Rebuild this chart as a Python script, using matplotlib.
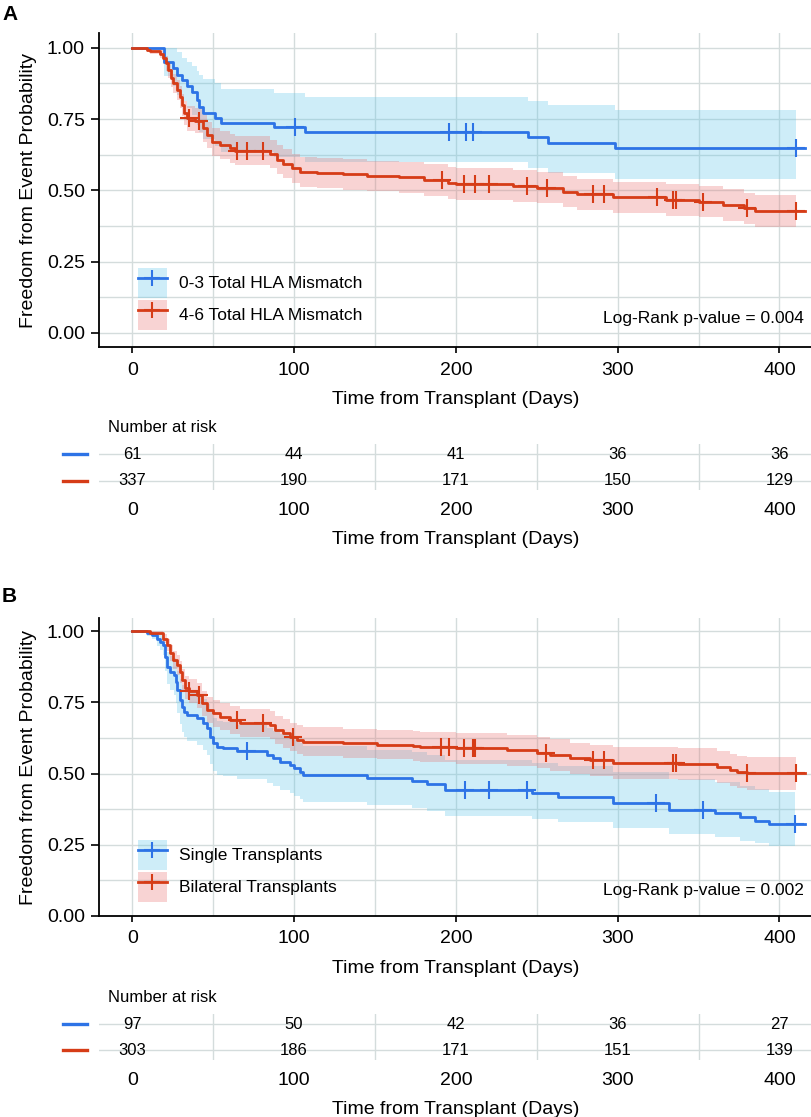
import numpy as np
import matplotlib
matplotlib.use('Agg')
import matplotlib.pyplot as plt
import matplotlib.transforms as mtransforms
from matplotlib.patches import Patch
from matplotlib.lines import Line2D

plt.rcParams['font.family'] = ['Liberation Sans', 'DejaVu Sans']

# ---- panel A : HLA mismatch ----
a1_labels = '0-3 Total HLA Mismatch'
a1_t = [0, 19.8, 25.3, 27.4, 30.5, 33.6, 36.7, 39.8, 41.4, 43.9, 51.1, 54.8, 87.8, 106.7, 244.8, 256.7, 298.3, 416]
a1_s = [1.0, 0.951, 0.928, 0.904, 0.887, 0.866, 0.846, 0.816, 0.793, 0.770, 0.752, 0.737, 0.723, 0.703, 0.688, 0.667, 0.649, 0.649]
a1_hi = [1.0, 1.0, 1.0, 0.985, 0.965, 0.95, 0.935, 0.92, 0.905, 0.89, 0.875, 0.854, 0.840, 0.826, 0.813, 0.798, 0.781, 0.781]
a1_lo = [1.0, 0.90, 0.865, 0.835, 0.815, 0.79, 0.765, 0.73, 0.705, 0.68, 0.655, 0.635, 0.618, 0.598, 0.577, 0.559, 0.539, 0.539]
a1_cens = [100.4, 196.0, 206.0, 210.8, 410.2]

a2_labels = '4-6 Total HLA Mismatch'
a2_t = [0, 8.9, 10.9, 17.1, 19.2, 20.6, 22.2, 23.7, 25.3, 27.4, 29.5, 30.5, 32.0, 33.6, 38.8, 43.9, 46.0, 49.0, 54.2, 60.4,
        63.5, 85.1, 89.2, 93.3, 98.5, 103.6, 114.0, 130.4, 144.9, 165.0, 180.0, 195.0, 200.0, 235.0, 250.0, 266.0, 275.0,
        297.0, 330.0, 350.0, 365.0, 378.0, 385.0, 416.0]
a2_s = [1.0, 0.994, 0.988, 0.979, 0.963, 0.945, 0.922, 0.893, 0.875, 0.852, 0.828, 0.799, 0.770, 0.752, 0.744, 0.717, 0.694,
        0.670, 0.659, 0.647, 0.639, 0.627, 0.608, 0.594, 0.577, 0.565, 0.561, 0.556, 0.550, 0.545, 0.536, 0.526, 0.522, 0.515,
        0.509, 0.495, 0.486, 0.475, 0.466, 0.460, 0.448, 0.437, 0.427, 0.427]
a2_hi = [1.0, 1.0, 0.998, 0.994, 0.984, 0.970, 0.950, 0.925, 0.909, 0.888, 0.866, 0.839, 0.812, 0.795, 0.788, 0.763, 0.741,
         0.718, 0.708, 0.697, 0.689, 0.677, 0.659, 0.645, 0.629, 0.618, 0.614, 0.610, 0.604, 0.600, 0.591, 0.581, 0.577, 0.570,
         0.564, 0.550, 0.541, 0.530, 0.521, 0.515, 0.503, 0.492, 0.482, 0.482]
a2_lo = [1.0, 0.986, 0.977, 0.964, 0.942, 0.920, 0.894, 0.861, 0.841, 0.816, 0.790, 0.759, 0.728, 0.709, 0.700, 0.671, 0.647,
         0.622, 0.610, 0.597, 0.589, 0.577, 0.557, 0.543, 0.525, 0.512, 0.508, 0.502, 0.496, 0.490, 0.481, 0.471, 0.467, 0.460,
         0.454, 0.440, 0.431, 0.420, 0.411, 0.405, 0.393, 0.382, 0.372, 0.372]
a2_cens = [35.3, 41.0, 64.6, 70.8, 81.0, 191.2, 205.0, 211.8, 220.6, 243.7, 256.1, 284.9, 291.5, 324.1, 334.0, 336.0,
           352.9, 379.7, 410.2]

a_pval = 'Log-Rank p-value = 0.004'
a_risk1 = [61, 44, 41, 36, 36]
a_risk2 = [337, 190, 171, 150, 129]

# ---- panel B : single vs bilateral ----
b1_labels = 'Single Transplants'
b1_t = [0, 8.9, 12.0, 15.1, 17.1, 19.2, 20.2, 21.3, 23.3, 25.8, 26.8, 27.8, 29.5, 30.5, 32.0, 34.0, 39.8, 43.9, 46.4, 48.0,
        50.1, 52.2, 56.3, 64.5, 83.1, 87.2, 91.3, 97.5, 99.9, 103.6, 105.7, 144.9, 172.7, 182.0, 193.3, 246.8, 263.3, 297.3,
        331.9, 360.1, 375.6, 384.9, 393.7, 416.0]
b1_s = [1.0, 0.992, 0.986, 0.974, 0.963, 0.951, 0.910, 0.875, 0.857, 0.846, 0.822, 0.793, 0.758, 0.734, 0.717, 0.705, 0.694,
        0.678, 0.659, 0.629, 0.606, 0.594, 0.588, 0.579, 0.565, 0.553, 0.541, 0.530, 0.518, 0.506, 0.495, 0.483, 0.474, 0.463,
        0.442, 0.431, 0.419, 0.398, 0.372, 0.361, 0.347, 0.335, 0.323, 0.323]
b1_hi = [1.0, 0.999, 0.996, 0.992, 0.985, 0.978, 0.950, 0.925, 0.912, 0.904, 0.885, 0.861, 0.831, 0.810, 0.795, 0.785, 0.776,
         0.762, 0.745, 0.717, 0.696, 0.685, 0.680, 0.672, 0.660, 0.649, 0.638, 0.628, 0.617, 0.606, 0.595, 0.584, 0.576, 0.566,
         0.546, 0.536, 0.525, 0.505, 0.481, 0.471, 0.457, 0.446, 0.434, 0.434]
b1_lo = [1.0, 0.982, 0.971, 0.949, 0.933, 0.916, 0.860, 0.815, 0.792, 0.776, 0.747, 0.713, 0.673, 0.646, 0.627, 0.615, 0.602,
         0.584, 0.564, 0.532, 0.508, 0.496, 0.490, 0.481, 0.467, 0.455, 0.443, 0.433, 0.421, 0.410, 0.399, 0.389, 0.380, 0.370,
         0.350, 0.341, 0.329, 0.310, 0.287, 0.277, 0.265, 0.255, 0.244, 0.244]
b1_cens = [70.8, 205.6, 220.6, 243.7, 323.7, 352.5, 409.8]

b2_labels = 'Bilateral Transplants'
b2_t = [0, 10.9, 19.2, 21.3, 23.3, 25.3, 27.4, 29.5, 30.5, 32.6, 35.0, 39.8, 42.9, 46.0, 50.1, 54.2, 60.4, 66.6, 85.1, 88.2,
        93.3, 97.5, 101.6, 105.7, 130.4, 151.0, 173.7, 177.8, 200.0, 231.4, 250.0, 258.2, 270.5, 282.9, 297.3, 337.5, 361.2,
        369.4, 373.5, 379.7, 416.0]
b2_s = [1.0, 0.993, 0.974, 0.951, 0.922, 0.898, 0.881, 0.857, 0.828, 0.802, 0.790, 0.775, 0.746, 0.723, 0.711, 0.699, 0.688,
        0.678, 0.670, 0.653, 0.641, 0.629, 0.618, 0.612, 0.606, 0.602, 0.598, 0.594, 0.588, 0.582, 0.573, 0.565, 0.553, 0.547,
        0.536, 0.532, 0.524, 0.512, 0.506, 0.501, 0.501]
b2_hi = [1.0, 0.999, 0.989, 0.973, 0.950, 0.930, 0.916, 0.895, 0.868, 0.844, 0.833, 0.819, 0.791, 0.769, 0.758, 0.746, 0.736,
         0.726, 0.719, 0.702, 0.691, 0.679, 0.669, 0.663, 0.658, 0.654, 0.651, 0.647, 0.641, 0.636, 0.627, 0.620, 0.608, 0.602,
         0.592, 0.588, 0.580, 0.569, 0.563, 0.558, 0.558]
b2_lo = [1.0, 0.987, 0.959, 0.929, 0.894, 0.866, 0.846, 0.819, 0.788, 0.760, 0.747, 0.731, 0.701, 0.677, 0.664, 0.652, 0.640,
         0.630, 0.621, 0.604, 0.591, 0.579, 0.567, 0.561, 0.554, 0.550, 0.545, 0.541, 0.535, 0.528, 0.519, 0.510, 0.498, 0.492,
         0.480, 0.476, 0.468, 0.455, 0.449, 0.444, 0.444]
b2_cens = [35.3, 41.2, 64.6, 81.0, 99.6, 190.6, 196.0, 205.0, 210.4, 211.8, 255.7, 284.5, 291.5, 334.0, 336.0, 379.7, 410.0]

b_pval = 'Log-Rank p-value = 0.002'
b_risk1 = [97, 50, 42, 36, 27]
b_risk2 = [303, 186, 171, 151, 139]

risk_days = [0, 100, 200, 300, 400]
xlab = 'Time from Transplant (Days)'
ylab = 'Freedom from Event Probability'

# colours
blue = '#2d73e6'
red = '#d63c17'
blue_fill = (95/255, 198/255, 232/255, 0.3)
red_fill = (232/255, 112/255, 112/255, 0.3)
grid_col = '#d4dcdc'

W, H = 812, 1117
fig = plt.figure(figsize=(W/100, H/100), dpi=100)

def box(left, top, right, bottom):
    # pixel box -> figure fraction
    return [left/W, 1 - bottom/H, (right - left)/W, (bottom - top)/H]

def band(ax, t, lo, hi, cens, col):
    t = np.array(t); lo = np.array(lo); hi = np.array(hi)
    end = cens[-1]
    keep = t < end
    bt = np.append(t[keep], end)
    blo = np.append(lo[keep], lo[keep][-1])
    bhi = np.append(hi[keep], hi[keep][-1])
    ax.fill_between(bt, blo, bhi, step='post', color=col, lw=0)

def curve(ax, t, s, cens, col):
    t = np.array(t); s = np.array(s)
    ax.step(t, s, where='post', color=col, lw=2)
    cy = s[np.searchsorted(t, cens, side='right') - 1]
    ax.plot(cens, cy, ls='none', marker='+', ms=13, mew=1.5, color=col)

def panel(rect, trect, ylo, yhi, c1, c2, pval, risk1, risk2, letter, letter_y, leg_y, pv_y):
    ax = fig.add_axes(box(*rect))
    band(ax, c1[0], c1[2], c1[3], c1[4], blue_fill)
    band(ax, c2[0], c2[2], c2[3], c2[4], red_fill)
    curve(ax, c1[0], c1[1], c1[4], blue)
    curve(ax, c2[0], c2[1], c2[4], red)

    ax.set_xlim(-20.4, 420.1)
    ax.set_ylim(ylo, yhi)
    ax.set_xticks(risk_days)
    ax.set_xticks([50, 150, 250, 350], minor=True)
    ax.set_yticks([0, 0.25, 0.5, 0.75, 1.0])
    ax.set_yticks([0.125, 0.375, 0.625, 0.875], minor=True)
    ax.set_yticklabels(['%.2f' % v for v in [0, 0.25, 0.5, 0.75, 1.0]])
    ax.grid(True, which='both', color=grid_col, lw=1)
    ax.set_axisbelow(True)
    ax.tick_params(which='minor', length=0)
    ax.tick_params(axis='x', labelsize=14, length=4.3, width=1.2, pad=6)
    ax.tick_params(axis='y', labelsize=14, length=5.5, width=1.2, pad=4.8)
    for sp in ['top', 'right']:
        ax.spines[sp].set_visible(False)
    for sp in ['left', 'bottom']:
        ax.spines[sp].set_linewidth(1.3)
    ax.set_xlabel(xlab, fontsize=14, labelpad=9)
    ax.set_ylabel(ylab, fontsize=14)
    ax.yaxis.set_label_coords(-0.087, 0.5)

    handles = [(Patch(facecolor=blue_fill, lw=0), Line2D([], [], color=blue, lw=2, marker='+', ms=11, mew=1.5)),
               (Patch(facecolor=red_fill, lw=0), Line2D([], [], color=red, lw=2, marker='+', ms=11, mew=1.5))]
    ax.legend(handles, [c1[5], c2[5]], loc='upper left', bbox_to_anchor=(0.054, leg_y), frameon=False,
              fontsize=12.5, borderpad=0, borderaxespad=0, handlelength=1.67, handleheight=2.28,
              handletextpad=0.7, labelspacing=0.12)
    ax.text(0.989, pv_y, pval, transform=ax.transAxes, ha='right', va='center', fontsize=12.5)
    fig.text(2/W, 1 - letter_y/H, letter, fontsize=15, fontweight='bold', ha='left', va='center')

    # number at risk table
    tab = fig.add_axes(box(*trect))
    tab.set_xlim(-20.4, 420.1)
    tab.set_ylim(2.35, 0.6)
    for i in range(len(risk_days)):
        tab.text(risk_days[i], 1, str(risk1[i]), ha='center', va='center', fontsize=12)
        tab.text(risk_days[i], 2, str(risk2[i]), ha='center', va='center', fontsize=12)
    tab.set_yticks([1, 2])
    tab.set_yticklabels([])
    tab.set_xticks(risk_days)
    tab.set_xticks([50, 150, 250, 350], minor=True)
    tab.grid(True, axis='y', which='major', color=grid_col, lw=1)
    tab.grid(True, axis='x', which='minor', color=grid_col, lw=1)
    tab.set_axisbelow(True)
    tab.tick_params(which='both', length=0)
    tab.tick_params(axis='x', labelsize=14, pad=9)
    for sp in tab.spines.values():
        sp.set_visible(False)
    tab.set_xlabel(xlab, fontsize=14, labelpad=8.5)
    tr = mtransforms.blended_transform_factory(tab.transAxes, tab.transData)
    tab.plot([-0.0514, -0.0168], [1, 1], color=blue, lw=2.4, transform=tr, clip_on=False)
    tab.plot([-0.0514, -0.0168], [2, 2], color=red, lw=2.4, transform=tr, clip_on=False)
    tab.text(0.012, 1.35, 'Number at risk', transform=tab.transAxes, ha='left', va='center', fontsize=12)
    return ax

panel((99.3, 33, 812, 347.3), (99.3, 443.8, 812, 489.8), -0.051, 1.052,
      (a1_t, a1_s, a1_lo, a1_hi, a1_cens, a1_labels), (a2_t, a2_s, a2_lo, a2_hi, a2_cens, a2_labels),
      a_pval, a_risk1, a_risk2, 'A', 14, 0.2523, 0.0923)
panel((99.3, 618.3, 812, 916), (99.3, 1013.5, 812, 1059.5), 0, 1.045,
      (b1_t, b1_s, b1_lo, b1_hi, b1_cens, b1_labels), (b2_t, b2_s, b2_lo, b2_hi, b2_cens, b2_labels),
      b_pval, b_risk1, b_risk2, 'B', 596, 0.2553, 0.0873)

fig.savefig('out.png', dpi=100)
